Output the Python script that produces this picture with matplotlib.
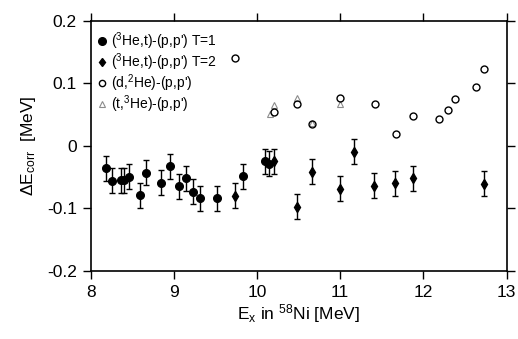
import matplotlib
matplotlib.use("Agg")
import matplotlib.pyplot as plt
from matplotlib.ticker import FuncFormatter
from matplotlib.lines import Line2D

plt.rcParams['font.family'] = ['Liberation Sans', 'DejaVu Sans']
plt.rcParams['mathtext.fontset'] = 'custom'
plt.rcParams['mathtext.rm'] = 'Liberation Sans'
plt.rcParams['mathtext.it'] = 'Liberation Sans'
plt.rcParams['axes.unicode_minus'] = False

# (3He,t)-(p,p') T=1
x_t1 = [8.19, 8.26, 8.36, 8.40, 8.46, 8.59, 8.67, 8.85, 8.95, 9.06,
        9.15, 9.23, 9.32, 9.52, 9.83, 10.10, 10.14]
y_t1 = [-0.036, -0.056, -0.055, -0.0555, -0.050, -0.0795, -0.043, -0.059, -0.033, -0.065,
        -0.052, -0.074, -0.084, -0.084, -0.049, -0.025, -0.029]
e_t1 = [0.02] * len(x_t1)

# (3He,t)-(p,p') T=2
x_t2 = [9.73, 10.20, 10.48, 10.66, 11.00, 11.16, 11.41, 11.66, 11.87, 12.73]
y_t2 = [-0.080, -0.025, -0.098, -0.042, -0.069, -0.010, -0.064, -0.060, -0.052, -0.061]
e_t2 = [0.02] * len(x_t2)

# (d,2He)-(p,p')
x_d = [9.73, 10.20, 10.48, 10.66, 11.00, 11.42, 11.67, 11.87, 12.19, 12.29, 12.38, 12.63, 12.73]
y_d = [0.141, 0.054, 0.067, 0.034, 0.076, 0.067, 0.018, 0.047, 0.043, 0.057, 0.074, 0.094, 0.122]

# (t,3He)-(p,p')
x_t = [10.15, 10.20, 10.48, 10.66, 11.00]
y_t = [0.051, 0.065, 0.077, 0.036, 0.067]

labels = ["($^3$He,t)-(p,p') T=1", "($^3$He,t)-(p,p') T=2",
          "(d,$^2$He)-(p,p')", "(t,$^3$He)-(p,p')"]

fig = plt.figure(figsize=(5.18, 3.39), dpi=100)
ax = fig.add_axes([0.175, 0.2015, 0.803, 0.7375])

ax.errorbar(x_t1, y_t1, yerr=e_t1, fmt='o', color='black', ms=5.5, capsize=2.5,
            elinewidth=1, capthick=1)
ax.errorbar(x_t2, y_t2, yerr=e_t2, fmt='d', color='black', ms=5, capsize=2.5,
            elinewidth=1, capthick=1)
ax.plot(x_t, y_t, '^', mfc='none', mec='0.55', ms=5, mew=0.8, linestyle='None')
ax.plot(x_d, y_d, 'o', mfc='none', mec='black', ms=5, mew=1, linestyle='None')

ax.set_xlim(8, 13)
ax.set_ylim(-0.2, 0.2)
ax.set_xticks([8, 9, 10, 11, 12, 13])
ax.set_yticks([-0.2, -0.1, 0, 0.1, 0.2])
ax.yaxis.set_major_formatter(FuncFormatter(lambda v, p: '0' if abs(v) < 1e-9 else f'{v:.1f}'))

ax.tick_params(direction='out', length=6, width=1, labelsize=12.5,
               top=True, right=True, pad=4)
for s in ax.spines.values():
    s.set_linewidth(1.2)

ax.set_xlabel("E$_x$ in $^{58}$Ni [MeV]", fontsize=12.5, labelpad=2)
ax.set_ylabel(r"$\Delta$E$_{\rm corr}$  [MeV]", fontsize=12.5, labelpad=6)

handles = [
    Line2D([], [], marker='o', color='black', ms=5.5, linestyle='None'),
    Line2D([], [], marker='d', color='black', ms=4.5, linestyle='None'),
    Line2D([], [], marker='o', mfc='none', mec='black', ms=4.5, mew=1, linestyle='None'),
    Line2D([], [], marker='^', mfc='none', mec='0.55', ms=4.5, mew=0.8, linestyle='None'),
]
ax.legend(handles, labels, loc='upper left', bbox_to_anchor=(-0.005, 1.0),
          frameon=False, fontsize=10, handlelength=0.6, handletextpad=0.3,
          labelspacing=-0.05, borderaxespad=0.3)

fig.savefig("out.png", dpi=100)
